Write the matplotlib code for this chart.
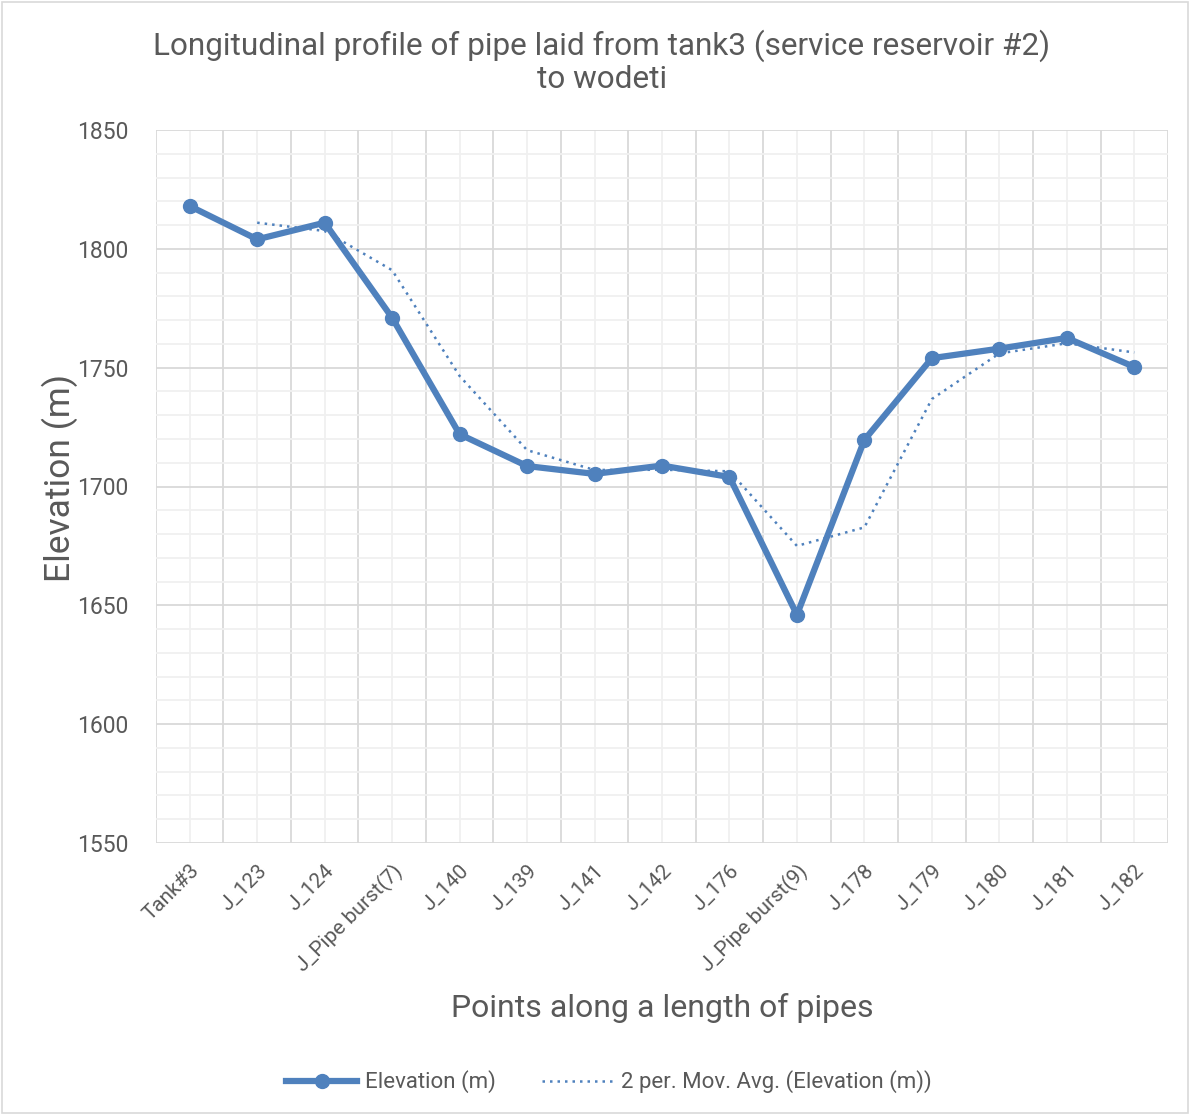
import numpy as np
import pandas as pd
import matplotlib
matplotlib.use("Agg")
import matplotlib.pyplot as plt
from matplotlib.patches import Rectangle
from matplotlib.ticker import MultipleLocator

points = ["Tank#3", "J_123", "J_124", "J_Pipe burst(7)", "J_140", "J_139", "J_141",
          "J_142", "J_176", "J_Pipe burst(9)", "J_178", "J_179", "J_180", "J_181", "J_182"]
elevation = [1818, 1804, 1811, 1771, 1722, 1708.6, 1705.3, 1708.8, 1704, 1646,
             1719.6, 1754, 1758, 1762.5, 1750.3]

blue = "#4f81bd"
grey_text = "#595959"
plt.rcParams["font.family"] = ["Roboto", "DejaVu Sans"]

W, H = 1190, 1115
fig = plt.figure(figsize=(W / 100, H / 100), dpi=100)
ax = fig.add_axes([156 / W, 1 - 843 / H, (1168 - 156) / W, (843 - 130) / H])

x = np.arange(len(points))
mov_avg = pd.Series(elevation).rolling(2).mean()

ax.plot(x, elevation, color=blue, lw=4.5, marker="o", ms=10, label="Elevation (m)", zorder=3)
ax.plot(x, mov_avg, color=blue, lw=1.8, ls=(0, (1, 2)), label="2 per. Mov. Avg. (Elevation (m))", zorder=4)

ax.set_xlim(-0.5, len(points) - 0.5)
ax.set_ylim(1550, 1850)
ax.yaxis.set_major_locator(MultipleLocator(50))
ax.yaxis.set_minor_locator(MultipleLocator(10))
# major vertical grid between categories, minor at category centres
ax.set_xticks(np.arange(-0.5, len(points)), minor=False)
ax.set_xticks(x, minor=True)
ax.set_xticklabels([""] * (len(points) + 1))
ax.set_xticklabels(points, minor=True, rotation=45, ha="right", rotation_mode="anchor",
                   fontsize=15, color=grey_text)
ax.grid(which="major", color="#d9d9d9", lw=1.3)
ax.grid(which="minor", color="#f0f0f0", lw=1.3)
ax.set_axisbelow(True)
ax.tick_params(which="both", length=0)
ax.tick_params(axis="x", which="minor", pad=13)
ax.tick_params(axis="y", labelsize=16.5, labelcolor=grey_text, pad=20)
for s in ax.spines.values():
    s.set_visible(False)

fig.text(60 / W, 1 - 478 / H, "Elevation (m)", rotation=90, ha="center", va="center",
         fontsize=25.5, color=grey_text)
fig.text(662 / W, 1 - 1008 / H, "Points along a length of pipes", ha="center", va="center",
         fontsize=23, color=grey_text)
fig.text(602 / W, 1 - 62 / H, "Longitudinal profile of pipe laid from tank3 (service reservoir #2)\nto wodeti",
         ha="center", va="center", fontsize=22.7, color=grey_text, linespacing=1.12)

fig.legend(loc="center", bbox_to_anchor=(609 / W, 1 - 1082 / H), ncol=2, frameon=False,
           fontsize=16, labelcolor=grey_text, handlelength=3.2, columnspacing=2.1,
           handletextpad=0.35)

fig.patches.append(Rectangle((0.002, 0.002), 0.996, 0.996, transform=fig.transFigure,
                             fill=False, edgecolor="#d9d9d9", lw=1.2))

fig.savefig("out.png", dpi=100)
